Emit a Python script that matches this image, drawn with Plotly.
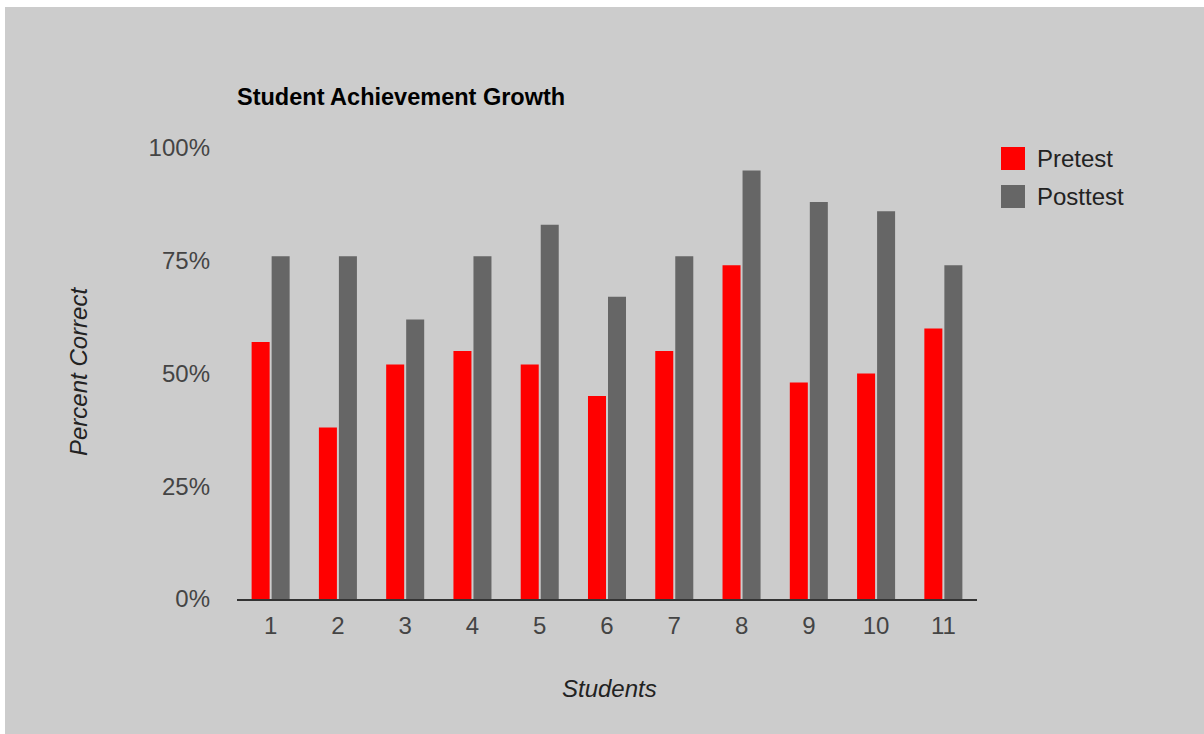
import plotly.graph_objects as go

students = ["1", "2", "3", "4", "5", "6", "7", "8", "9", "10", "11"]
pretest = [0.57, 0.38, 0.52, 0.55, 0.52, 0.45, 0.55, 0.74, 0.48, 0.50, 0.60]
posttest = [0.76, 0.76, 0.62, 0.76, 0.83, 0.67, 0.76, 0.95, 0.88, 0.86, 0.74]
series_names = ["Pretest", "Posttest"]
series_colors = ["#ff0000", "#666666"]
y_ticks = [0, 0.25, 0.5, 0.75, 1.0]

FONT = "Liberation Sans, Arial, sans-serif"
BG = "#cccccc"

# figure pixel geometry (figure is offset 5px left / 7px top in the page)
W, H = 1199, 727
L, R, T, B = 232, 227, 141, 135
pw, ph = W - L - R, H - T - B


def px(x_abs):
    return (x_abs - 5 - L) / pw


def py(y_abs):
    return (H - B - (y_abs - 7)) / ph


fig = go.Figure()
for name, vals, col in zip(series_names, [pretest, posttest], series_colors):
    fig.add_trace(go.Bar(x=students, y=vals, name=name, marker_color=col,
                         marker_line_width=0, showlegend=False))

# manual legend (large square swatches)
shapes = []
annotations = []
leg_rows = [(147, 170, 158.5), (185, 208, 196.5)]
for (y0, y1, yc), name, col in zip(leg_rows, series_names, series_colors):
    shapes.append(dict(type="rect", xref="paper", yref="paper",
                       x0=px(1001), x1=px(1025), y0=py(y1), y1=py(y0),
                       fillcolor=col, line=dict(width=0)))
    annotations.append(dict(text=name, xref="paper", yref="paper",
                            x=px(1035), y=py(yc), xanchor="left", yanchor="middle",
                            showarrow=False, font=dict(family=FONT, size=24, color="#222222")))

annotations.append(dict(text="<b>Student Achievement Growth</b>", xref="paper", yref="paper",
                        x=px(235), y=py(97), xanchor="left", yanchor="middle",
                        showarrow=False, font=dict(family=FONT, size=23.5, color="#000000")))
annotations.append(dict(text="<i>Percent Correct</i>", xref="paper", yref="paper",
                        x=px(78), y=py(372), xanchor="center", yanchor="middle",
                        textangle=-90, showarrow=False,
                        font=dict(family=FONT, size=24, color="#222222")))
annotations.append(dict(text="<i>Students</i>", xref="paper", yref="paper",
                        x=px(609), y=py(688), xanchor="center", yanchor="middle",
                        showarrow=False,
                        font=dict(family=FONT, size=24, color="#222222")))

fig.update_layout(
    width=W, height=H,
    margin=dict(l=L, r=R, t=T, b=B, pad=0),
    paper_bgcolor=BG, plot_bgcolor=BG,
    barmode="group", bargap=0.405, bargroupgap=0.1,
    font=dict(family=FONT, size=24, color="#444444"),
    shapes=shapes, annotations=annotations,
    showlegend=False,
)
fig.update_xaxes(showgrid=False, showline=True, linecolor="#333333", linewidth=2,
                 ticks="", ticklabelstandoff=4, zeroline=False,
                 tickfont=dict(family=FONT, size=24, color="#444444"))
fig.update_yaxes(range=[0, 1], tickvals=y_ticks, tickformat=".0%", showgrid=False,
                 showline=False, zeroline=False, ticks="", ticklabelstandoff=26,
                 tickfont=dict(family=FONT, size=24, color="#444444"))

fig.write_html("out.html", post_script="document.body.style.margin='7px 0 0 5px';")
